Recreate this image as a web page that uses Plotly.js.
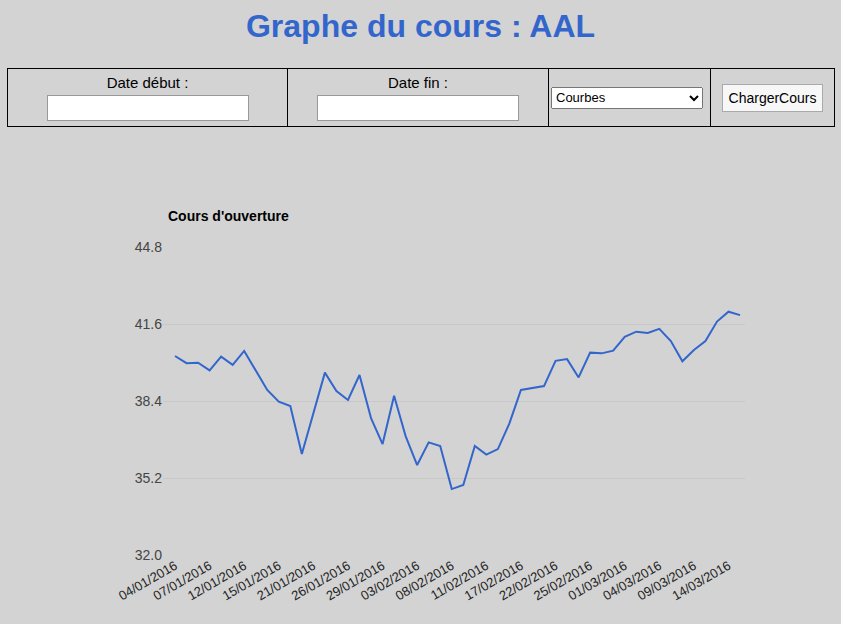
<!DOCTYPE html>
<html>
<head>
<meta charset="utf-8">
<script src="https://cdn.plot.ly/plotly-3.0.1.min.js"></script>
<style>
  body { margin: 0; background: #d3d3d3; font-family: "Liberation Sans", Arial, sans-serif; width: 841px; height: 624px; overflow: hidden; }
  h1 { margin: 0; padding-top: 6px; height: 62px; text-align: center; color: #3366cc; font-size: 32px; line-height: 40px; }
  table { position: absolute; left: 7px; top: 68px; width: 828px; height: 59px; border-collapse: collapse; }
  td { border: 1px solid #000; text-align: center; font-size: 15px; padding: 0; }
  input { width: 196px; height: 22px; border: 1px solid #999; background: #fff; margin-top: 4px; }
  select { width: 152px; height: 22px; font-size: 13px; }
  button { font-size: 14px; height: 28px; background: #f7f7f7; border: 1px solid #aaa; }
  #chart { position: absolute; left: 0; top: 140px; width: 841px; height: 484px; }
</style>
</head>
<body>
<h1>Graphe du cours : AAL</h1>
<table><tr>
  <td style="width:279px">Date début :<br><input type="text"></td>
  <td style="width:260px">Date fin :<br><input type="text"></td>
  <td style="width:159px;text-align:left;padding-left:2px"><select><option>Courbes</option></select></td>
  <td><button>ChargerCours</button></td>
</tr></table>
<div id="chart"></div>
<script>
const dates = ["04/01/2016","05/01/2016","06/01/2016","07/01/2016","08/01/2016","11/01/2016","12/01/2016","13/01/2016","14/01/2016","15/01/2016",
  "19/01/2016","20/01/2016","21/01/2016","22/01/2016","25/01/2016","26/01/2016","27/01/2016","28/01/2016","29/01/2016","01/02/2016",
  "02/02/2016","03/02/2016","04/02/2016","05/02/2016","08/02/2016","09/02/2016","10/02/2016","11/02/2016","12/02/2016","16/02/2016",
  "17/02/2016","18/02/2016","19/02/2016","22/02/2016","23/02/2016","24/02/2016","25/02/2016","26/02/2016","29/02/2016","01/03/2016",
  "02/03/2016","03/03/2016","04/03/2016","07/03/2016","08/03/2016","09/03/2016","10/03/2016","11/03/2016","14/03/2016","15/03/2016"];
const opens = [40.27,39.97,39.99,39.67,40.24,39.90,40.48,39.66,38.86,38.37,
  38.19,36.20,37.90,39.58,38.81,38.44,39.48,37.69,36.61,38.62,
  36.94,35.74,36.68,36.53,34.74,34.91,36.53,36.17,36.40,37.47,
  38.86,38.95,39.02,40.07,40.14,39.38,40.41,40.38,40.49,41.07,
  41.28,41.23,41.40,40.89,40.05,40.52,40.89,41.70,42.11,41.97];
const yTicks = [32.0, 35.2, 38.4, 41.6, 44.8];
const xTicks = dates.filter((d, i) => i % 3 === 0);

Plotly.newPlot('chart', [{
  x: dates, y: opens, type: 'scatter', mode: 'lines',
  line: { color: '#3366cc', width: 2 }
}], {
  paper_bgcolor: '#d3d3d3', plot_bgcolor: '#d3d3d3',
  margin: { l: 163, r: 96, t: 107, b: 69 },
  showlegend: false,
  font: { family: 'Liberation Sans, Arial, sans-serif', size: 14, color: '#444' },
  title: { text: "<b>Cours d'ouverture</b>", x: 168 / 841, xanchor: 'left', y: 1 - 76 / 484, yanchor: 'middle',
    font: { size: 14, color: '#000' } },
  xaxis: { type: 'category', tickvals: xTicks, ticktext: xTicks, tickangle: -30, showgrid: false,
    zeroline: false, showline: false, ticks: '', range: [-1.04, 49.43], tickfont: { size: 13, color: '#222' } },
  yaxis: { range: [32, 44.8], tickvals: yTicks, ticktext: yTicks.map(v => v.toFixed(1)),
    gridcolor: '#c8c8c8', zeroline: false, showline: false, ticks: '', ticklen: 0,
    tickfont: { size: 14, color: '#444' } }
}, { displayModeBar: false });
</script>
</body>
</html>
